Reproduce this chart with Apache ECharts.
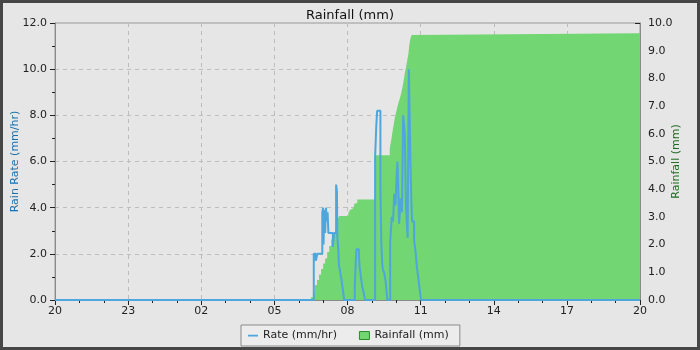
<!DOCTYPE html>
<html><head><meta charset="utf-8">
<script src="https://cdn.jsdelivr.net/npm/echarts@6/dist/echarts.min.js"></script>
<style>
html,body{margin:0;padding:0;background:#464646;}
#wrap{position:absolute;left:0;top:0;width:700px;height:350px;background:#464646;}
#chart{position:absolute;left:3px;top:3px;width:694px;height:344px;background:#e6e6e6;}
</style></head>
<body><div id="wrap"><div id="chart"></div></div>
<script>
// x tick labels (every 3 hours starting at 20:00)
const xTickLabels = ['20','23','02','05','08','11','14','17','20'];
// Rain rate (mm/hr)
const rateTimes = ['20:00','06:37','06:42','06:46','06:58','07:00','07:01','07:03','07:05','07:07','07:09','07:11','07:13','07:24','07:27','07:32','07:34','07:35','07:37','07:39','07:42','07:45','07:48','07:52',
  '08:18','08:20','08:22','08:28','08:30','08:33','08:36','08:40','08:43',
  '09:08','09:11','09:13','09:21','09:23','09:25','09:27','09:30','09:34','09:38',
  '09:45','09:49','09:52','09:55','09:58','10:01','10:03','10:05','10:07','10:11','10:14','10:17','10:21','10:24','10:28','10:31','10:35','10:37','10:39','10:44','10:48','10:51','10:54','10:58','11:01','20:00'];
const rateValues = [0,2.0,1.7,2.0,3.8,4.0,2.4,3.9,2.9,4.0,3.4,3.8,2.9,2.3,2.9,5.0,4.7,2.7,2.3,1.5,1.2,0.9,0.5,0,
  0.6,1.5,2.2,1.9,1.4,1.0,0.6,0.3,0,
  6.2,7.6,8.2,4.8,2.6,1.7,1.3,1.2,0.8,0,
  2.5,3.6,3.4,4.6,4.1,5.4,6.0,4.7,3.3,4.4,3.8,8.0,7.2,4.0,2.7,10.0,5.9,4.4,3.4,2.6,2.0,1.4,1.0,0.4,0,0];
// Cumulative rainfall (mm)
const rainTimes = ['20:00','06:30','06:35','06:40','06:45','06:50','06:55','07:00','07:05','07:10','07:15','07:20','07:25','07:30','07:35','07:39',
  '08:02','08:06','08:10','08:14','08:18','08:24','09:08','09:10',
  '09:44','09:48','09:51','09:54','09:57','10:01','10:05','10:09','10:13','10:17','10:21','10:24','10:27','10:30','10:32','10:35','10:38','10:42','20:00'];
const rainValues = [0,0.1,0.3,0.54,0.72,0.92,1.12,1.32,1.5,1.73,1.95,2.18,2.4,2.63,2.85,3.03,
  3.13,3.25,3.31,3.37,3.49,3.63,4.5,5.23,
  5.47,5.8,6.1,6.35,6.62,6.86,7.1,7.28,7.52,7.82,8.18,8.4,8.65,8.9,9.2,9.45,9.57,9.63,9.63];

function toHours(s, i){
  const [h,m] = s.split(':').map(Number);
  let v = h + m/60;
  v = v >= 20 ? v - 20 : v + 4;
  if (i > 0 && v === 0) v = 24;
  return v;
}
const rateData = rateTimes.map((t,i)=>[toHours(t,i), rateValues[i]]);
const rainData = rainTimes.map((t,i)=>[toHours(t,i), rainValues[i]]);

const FONT = 'DejaVu Sans';
const chart = echarts.init(document.getElementById('chart'), null, {renderer:'canvas'});
chart.setOption({
  backgroundColor:'#e6e6e6',
  animation:false,
  textStyle:{fontFamily:FONT},
  title:{text:'Rainfall (mm)', left:'center', top:1, textStyle:{fontFamily:FONT, fontSize:13, fontWeight:'normal', color:'#111'}},
  grid:{left:52, top:20, width:585, height:277, containLabel:false, outerBoundsMode:'none', show:true, borderColor:'#9a9a9a', borderWidth:1, backgroundColor:'transparent'},
  legend:{
    left:238, top:322, orient:'horizontal',
    backgroundColor:'#ececec', borderColor:'#8a8a8a', borderWidth:1, borderRadius:0,
    padding:[5,11,5,7], itemGap:22, itemWidth:10, itemHeight:8,
    textStyle:{fontFamily:FONT, fontSize:11, color:'#222'},
    data:[
      {name:'Rate (mm/hr)', icon:'path://M0,0H0.01V0.01H0ZM0,3.2H10V5H0ZM9.99,7.99H10V8H9.99Z', itemStyle:{color:'#4ea6dc'}},
      {name:'Rainfall (mm)', icon:'rect', itemStyle:{color:'#72d672', borderColor:'#2e8a2e', borderWidth:1}}
    ]
  },
  xAxis:{
    type:'value', min:0, max:24, interval:3,
    axisLine:{lineStyle:{color:'#8a8a8a'}},
    axisTick:{show:true, length:5, lineStyle:{color:'#222'}},
    minorTick:{show:true, splitNumber:3, length:3, lineStyle:{color:'#222'}},
    axisLabel:{fontFamily:FONT, fontSize:11, color:'#222', margin:6, formatter:(v)=>xTickLabels[Math.round(v/3)]},
    splitLine:{show:true, lineStyle:{color:'#bdbdbd', type:[4,4]}}
  },
  yAxis:[{
    type:'value', min:0, max:12, interval:2, position:'left',
    name:'Rain Rate (mm/hr)', nameLocation:'middle', nameGap:34, nameRotate:90, nameMoveOverlap:false,
    nameTextStyle:{fontFamily:FONT, fontSize:11, color:'#1f6fa8'},
    axisLine:{show:true, lineStyle:{color:'#8a8a8a'}},
    axisTick:{show:true, length:5, lineStyle:{color:'#222'}},
    minorTick:{show:true, splitNumber:2, length:3, lineStyle:{color:'#222'}},
    axisLabel:{fontFamily:FONT, fontSize:11, color:'#222', margin:8, formatter:(v)=>v.toFixed(1)},
    splitLine:{show:true, lineStyle:{color:'#bdbdbd', type:[4,4]}}
  },{
    type:'value', min:0, max:10, interval:1, position:'right',
    name:'Rainfall (mm)', nameLocation:'middle', nameGap:31, nameRotate:90, nameMoveOverlap:false,
    nameTextStyle:{fontFamily:FONT, fontSize:11, color:'#1f6b1f'},
    axisLine:{show:true, lineStyle:{color:'#8a8a8a'}},
    axisTick:{show:true, inside:true, length:5, lineStyle:{color:'#222'}},
    minorTick:{show:true, splitNumber:2, length:3, lineStyle:{color:'#222'}},
    axisLabel:{fontFamily:FONT, fontSize:11, color:'#222', margin:8, formatter:(v)=>v.toFixed(1)},
    splitLine:{show:false}
  }],
  series:[
    {name:'Rainfall (mm)', type:'line', yAxisIndex:1, step:'end', data:rainData, symbol:'none',
     lineStyle:{width:0, color:'#72d672'}, itemStyle:{color:'#72d672'}, areaStyle:{color:'#72d672', opacity:1}, z:2},
    {name:'Rate (mm/hr)', type:'line', yAxisIndex:0, step:'end', data:rateData, symbol:'none',
     lineStyle:{width:2, color:'#4ea6dc'}, itemStyle:{color:'#4ea6dc'}, z:3}
  ]
});
</script></body></html>
